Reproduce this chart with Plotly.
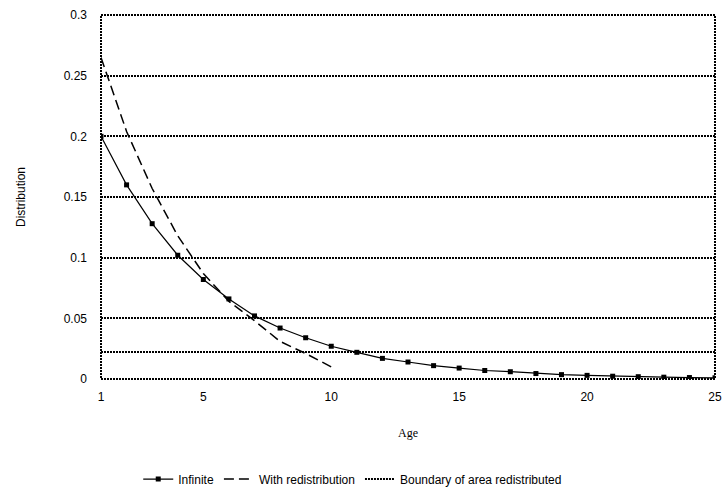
import plotly.graph_objects as go

ages = list(range(1, 26))
infinite = [0.2, 0.16, 0.128, 0.102, 0.082, 0.066, 0.052, 0.042, 0.034, 0.027,
            0.022, 0.017, 0.014, 0.011, 0.009, 0.007, 0.006, 0.0045, 0.0036, 0.003,
            0.0023, 0.0019, 0.0015, 0.0012, 0.001]
redist_ages = list(range(1, 11))
with_redistribution = [0.265, 0.204, 0.157, 0.118, 0.087, 0.064, 0.048, 0.031, 0.021, 0.010]
boundary_ages = [1, 25]
boundary = [0.0223, 0.0223]

x_ticks = [1, 5, 10, 15, 20, 25]
y_ticks = [0, 0.05, 0.1, 0.15, 0.2, 0.25, 0.3]
y_ticktext = ["0", "0.05", "0.1", "0.15", "0.2", "0.25", "0.3"]

fig = go.Figure()
fig.add_trace(go.Scatter(
    x=ages, y=infinite, name="Infinite", mode="lines+markers",
    line=dict(color="black", width=1.2),
    marker=dict(symbol="square", size=5, color="black"),
))
fig.add_trace(go.Scatter(
    x=redist_ages, y=with_redistribution, name="With redistribution", mode="lines",
    line=dict(color="black", width=1.5, dash="10px,5px"),
))
fig.add_trace(go.Scatter(
    x=boundary_ages, y=boundary, name="Boundary of area redistributed", mode="lines",
    line=dict(color="black", width=2, dash="2px,1px"),
))

fig.add_shape(type="rect", xref="paper", yref="paper", x0=0, y0=0, x1=1, y1=1,
              line=dict(color="black", width=2, dash="2px,1px"), layer="below")

fig.update_layout(
    width=724, height=493,
    margin=dict(l=101, r=9, t=15, b=114, autoexpand=False),
    paper_bgcolor="white", plot_bgcolor="white",
    font=dict(family="Liberation Sans, Arial", size=12, color="black"),
    showlegend=True,
    legend=dict(orientation="h", x=0.41, xanchor="center", y=-0.275, yanchor="middle",
                font=dict(size=12), itemwidth=30, tracegroupgap=0),
    xaxis=dict(range=[1, 25], tickvals=x_ticks, ticks="", showgrid=False, zeroline=False,
               showline=False, tickfont=dict(size=12), automargin=False, ticklabelstandoff=9,
               title=dict(text="Age", font=dict(family="Liberation Serif, Times New Roman", size=12),
                          standoff=25)),
    yaxis=dict(range=[0, 0.3], tickvals=y_ticks, ticktext=y_ticktext, ticks="",
               showgrid=True, gridcolor="black", gridwidth=2, griddash="2px,1px",
               zeroline=False, showline=False, tickfont=dict(size=12), ticklabelstandoff=13,
               automargin=False,
               title=dict(text="Distribution", font=dict(size=12), standoff=35)),
)

fig.write_html("out.html")
